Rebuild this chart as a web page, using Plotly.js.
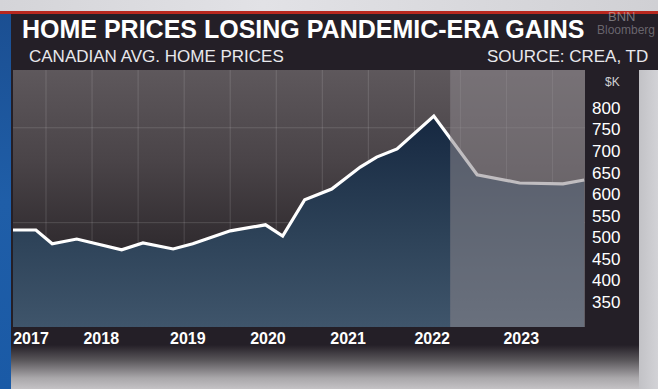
<!DOCTYPE html>
<html>
<head>
<meta charset="utf-8">
<script src="https://cdn.plot.ly/plotly-3.0.1.min.js"></script>
<style>
  html, body { margin:0; padding:0; width:658px; height:389px; overflow:hidden; background:#cbcbcf; }
  #wrap { position:relative; width:658px; height:389px; }
  .bg { position:absolute; }
  #top { left:0; top:0; width:658px; height:11px; background:linear-gradient(90deg,#d4d4d8,#e2e2e6 40%,#d0d0d4); }
  #red { left:0; top:11px; width:658px; height:3px; background:#b8281f; }
  #band { left:11px; top:14px; width:647px; height:56px; background:#241f27; }
  #panel { left:11px; top:70px; width:628px; height:275px; background:#241f27; }
  #fade { left:11px; top:345px; width:628px; height:44px; background:linear-gradient(180deg,#241f27 0%,#5a575b 35%,#a9a7aa 75%,#c4c2c5 100%); }
  #right { left:639px; top:70px; width:19px; height:319px; background:linear-gradient(90deg,#c2c2c6,#d2d2d6); }
  #blue { left:0; top:14px; width:11px; height:375px; background:linear-gradient(180deg,#1b4f92,#1f5ea8 50%,#1a5aa6); }
  #plotbg { left:13px; top:70px; width:572px; height:257px; background:linear-gradient(180deg,#5e585c 0%,#4a4448 35%,#2f2a2e 70%,#2a2529 100%); }
  #chart { position:absolute; left:0; top:0; width:658px; height:389px; }
</style>
</head>
<body>
<div id="wrap">
  <div class="bg" id="top"></div>
  <div class="bg" id="red"></div>
  <div class="bg" id="band"></div>
  <div class="bg" id="panel"></div>
  <div class="bg" id="fade"></div>
  <div class="bg" id="right"></div>
  <div class="bg" id="blue"></div>
  <div class="bg" id="plotbg"></div>
  <div id="chart"></div>
</div>
<script>
// ---- data (decimal years, average price in $K) ----
const years = [2017.00, 2017.28, 2017.48, 2017.78, 2018.33, 2018.59, 2018.96, 2019.20, 2019.66, 2020.09,
               2020.30, 2020.57, 2020.90, 2021.25, 2021.45, 2021.70, 2022.15, 2022.68, 2023.20, 2023.73, 2023.99];
const prices = [517, 517, 485, 496, 471, 487, 473, 485, 515, 529,
                503, 587, 612, 663, 686, 705, 781, 645, 626, 624, 633];
const xTickLabels = ['2017', '2018', '2019', '2020', '2021', '2022', '2023'];
const yTickValues = [350, 400, 450, 500, 550, 600, 650, 700, 750, 800];
const forecastStart = 2022.35;

// ---- layout helpers (positions / styling) ----
const xTickPos = [2017.22, 2018.08, 2019.14, 2020.12, 2021.10, 2022.13, 2023.22];
const xRange = [2017, 2024];
const yRange = [292, 888];
const gridColor = 'rgba(255,255,255,0.14)';
const shapes = [];
for (let k = 0; k < 12; k++) {
  const gx = 2017.404 + k * 0.5635;
  shapes.push({type:'line', xref:'x', yref:'paper', x0:gx, x1:gx, y0:0, y1:1,
               line:{color:gridColor, width:1}, layer:'below'});
}
[754, 534].forEach(gy => shapes.push({type:'line', xref:'paper', yref:'y', x0:0, x1:1, y0:gy, y1:gy,
               line:{color:gridColor, width:1}, layer:'below'}));
shapes.push({type:'rect', xref:'x', yref:'paper', x0:forecastStart, x1:xRange[1], y0:0, y1:1,
             fillcolor:'rgba(140,135,140,0.55)', line:{width:0}, layer:'above'});

const trace = {
  x: years, y: prices, type:'scatter', mode:'lines',
  line:{color:'#ffffff', width:3.2, shape:'linear'},
  fill:'tozeroy',
  fillgradient:{type:'vertical', start:292, stop:790,
    colorscale:[[0,'#3f556b'],[0.45,'#2c4157'],[1,'#152740']]},
  fillcolor:'#2c4157',
  hoverinfo:'skip'
};

const F = 'Liberation Sans, Arial, sans-serif';
const layout = {
  width:658, height:389,
  margin:{l:13, r:73, t:70, b:62, pad:0},
  paper_bgcolor:'rgba(0,0,0,0)', plot_bgcolor:'rgba(0,0,0,0)',
  showlegend:false,
  title:{text:'<b>HOME PRICES LOSING PANDEMIC-ERA GAINS</b>', xref:'container', yref:'container',
         x:22/658, xanchor:'left', y:1-29/389, yanchor:'middle',
         font:{family:F, size:25, color:'#ffffff'}},
  xaxis:{range:xRange, fixedrange:true, showgrid:false, zeroline:false, showline:false,
         tickmode:'array', tickvals:xTickPos, ticktext:xTickLabels, ticks:'',
         tickfont:{family:F, size:16, color:'#ffffff', weight:'bold'}},
  yaxis:{range:yRange, fixedrange:true, side:'right', showgrid:false, zeroline:false, showline:false,
         tickmode:'array', tickvals:yTickValues, ticks:'', ticklabelstandoff:6,
         tickfont:{family:F, size:17, color:'#ffffff'}},
  shapes: shapes,
  annotations:[
    {text:'CANADIAN AVG. HOME PRICES', xref:'paper', yref:'paper', x:27/572-13/572, xanchor:'left',
     y:1+(70-57)/257, yanchor:'middle', showarrow:false, font:{family:F, size:17, color:'#e8e8ec'}},
    {text:'SOURCE: CREA, TD', xref:'paper', yref:'paper', x:(650-13)/572, xanchor:'right',
     y:1+(70-57)/257, yanchor:'middle', showarrow:false, font:{family:F, size:17, color:'#e8e8ec'}},
    {text:'$K', xref:'paper', yref:'paper', x:(612-13)/572, xanchor:'center',
     y:1-(82-70)/257, yanchor:'middle', showarrow:false, font:{family:F, size:12, color:'#d0d0d4'}},
    {text:'BNN', xref:'paper', yref:'paper', x:(622-13)/572, xanchor:'center',
     y:1+(70-16)/257, yanchor:'middle', showarrow:false, font:{family:F, size:13, color:'rgba(205,205,210,0.5)'}},
    {text:'Bloomberg', xref:'paper', yref:'paper', x:(657-13)/572, xanchor:'right',
     y:1+(70-30)/257, yanchor:'middle', showarrow:false, font:{family:F, size:12, color:'rgba(205,205,210,0.42)'}}
  ]
};

Plotly.newPlot('chart', [trace], layout, {displayModeBar:false, staticPlot:true});
</script>
</body>
</html>
